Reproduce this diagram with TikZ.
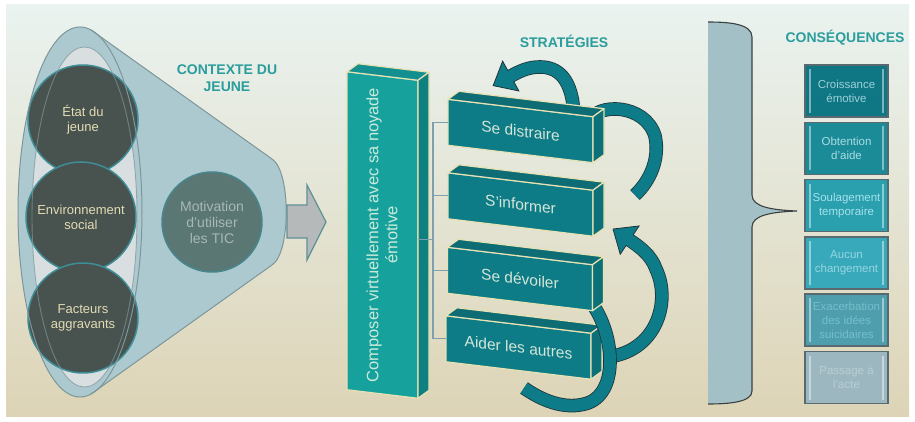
\documentclass[tikz,border=0pt]{standalone}
\usepackage{fontspec}
\setmainfont{Liberation Sans}
\usetikzlibrary{positioning,calc,decorations.markings}

\definecolor{paneltop}{HTML}{EAF3F0}
\definecolor{panelmid}{HTML}{E8EEE7}
\definecolor{panelbottom}{HTML}{DDD4B6}
\definecolor{funnelfill}{HTML}{ADC9D0}
\definecolor{funneledge}{HTML}{7D969A}
\definecolor{innerfill}{HTML}{D9DFE0}
\definecolor{bubblefill}{HTML}{48534F}
\definecolor{bubbleedge}{HTML}{3F8D96}
\definecolor{bubbletext}{HTML}{E2DCB4}
\definecolor{motivfill}{HTML}{5A7774}
\definecolor{motivtext}{HTML}{A9B8B5}
\definecolor{headteal}{HTML}{2A9D9C}
\definecolor{flowgray}{HTML}{B5B9B9}
\definecolor{flowedge}{HTML}{5F9098}
\definecolor{barfront}{HTML}{16A19D}
\definecolor{barside}{HTML}{0F8080}
\definecolor{bartop}{HTML}{138F90}
\definecolor{bartext}{HTML}{C9EAD9}
\definecolor{creamedge}{HTML}{E6E2B3}
\definecolor{stratfront}{HTML}{0E7C86}
\definecolor{strattop}{HTML}{0D6C74}
\definecolor{stratside}{HTML}{0C7078}
\definecolor{strattext}{HTML}{D5E6D9}
\definecolor{bracketline}{HTML}{7EA0AE}
\definecolor{loopfill}{HTML}{0E7B88}
\definecolor{loopedge}{HTML}{1C3538}
\definecolor{bracefill}{HTML}{A4C0C7}
\definecolor{braceedge}{HTML}{3B4142}
\definecolor{conedge}{HTML}{596970}
\definecolor{conA}{HTML}{0F7784}\definecolor{conAt}{HTML}{9CCFD7}
\definecolor{conB}{HTML}{1B8B98}\definecolor{conBt}{HTML}{A9DCE2}
\definecolor{conC}{HTML}{2A9FAE}\definecolor{conCt}{HTML}{A5E2EC}
\definecolor{conD}{HTML}{38A9BA}\definecolor{conDt}{HTML}{96D6E2}
\definecolor{conE}{HTML}{4F9EAD}\definecolor{conEt}{HTML}{75BFCD}
\definecolor{conF}{HTML}{9CB7BF}\definecolor{conFt}{HTML}{B9CDD3}

% top and side faces of a slanted box node
\newcommand{\slabfaces}[3]{%
  \draw[slabedge, fill=#2] (#1.north west) -- ++(11,8) -- ($(#1.north east)+(11,8)$) -- (#1.north east) -- cycle;
  \draw[slabedge, fill=#3] (#1.north east) -- ($(#1.north east)+(11,8)$) -- ($(#1.south east)+(11,8)$) -- (#1.south east) -- cycle;}

\begin{document}
\begin{tikzpicture}[x=1pt,y=1pt]
	\tikzset{
		bubble/.style={circle, minimum size=110pt, inner sep=2pt, fill=bubblefill, draw=bubbleedge, line width=1.5pt, text=bubbletext, align=center, font=\fontsize{13}{15}\selectfont},
		heading/.style={text=headteal, align=center, font=\fontsize{14}{17}\selectfont\bfseries},
		slabedge/.style={draw=creamedge, line width=1.2pt, line join=round},
		slab/.style={slabedge, yslant=-0.12, inner sep=0pt, outer sep=0pt},
		stratbox/.style={slab, fill=stratfront, minimum width=145pt, minimum height=46pt, text=strattext, font=\fontsize{15.5}{18}\selectfont},
		bracket/.style={draw=bracketline, line width=1.2pt},
		looparrow/.style={draw=loopfill, line width=12pt,
			preaction={draw=loopedge, line width=13.6pt},
			postaction={decorate, decoration={markings, mark=at position 1 with {
				\fill[loopfill] (-2pt,-17pt) -- (18pt,0pt) -- (-2pt,17pt) -- cycle;
				\draw[loopedge, line width=0.8pt, line join=miter] (-2pt,-6.1pt) -- (-2pt,-17pt) -- (18pt,0pt) -- (-2pt,17pt) -- (-2pt,6.1pt);}}}},
		conbox/.style={rectangle, minimum width=83pt, minimum height=52pt, inner sep=0pt, draw=conedge, line width=1.5pt, align=center, font=\fontsize{11.5}{14}\selectfont,
			path picture={\draw[white, opacity=0.45, line width=1.4pt]
				([shift={(5pt,-4pt)}]path picture bounding box.north west) -- ([shift={(5pt,4pt)}]path picture bounding box.south west)
				([shift={(-5pt,-4pt)}]path picture bounding box.north east) -- ([shift={(-5pt,4pt)}]path picture bounding box.south east);}}
	}
	\useasboundingbox (0,0) rectangle (915,421);

	%% background panel
	\fill[white] (0,0) rectangle (915,421);
	\shade[top color=paneltop, middle color=panelmid, bottom color=panelbottom] (6,5) rectangle (909,416);

	%% funnel: context of the young person
	\coordinate (fc) at (80,209);
	\coordinate (spine) at (433,0);
	\fill[funnelfill] (fc) ellipse [x radius=62, y radius=185];
	\fill[funnelfill] ($(fc)+(80:62 and 185)$) -- (272,262) .. controls (291,250) and (291,168) .. (272,156) -- ($(fc)+(-80:62 and 185)$) -- cycle;
	\fill[innerfill] (84.5,204) ellipse [x radius=52.5, y radius=170];

	\node[bubble] (etat) at (83,301) {État du\\jeune};
	\node[bubble] (envi) at (81,204) {Environnement\\social};
	\node[bubble] (fact) at (83,103) {Facteurs\\aggravants};

	\draw[funneledge, opacity=0.7, line width=0.9pt] (84.5,204) ellipse [x radius=52.5, y radius=170];
	\draw[funneledge, line width=1pt] (fc) ellipse [x radius=62, y radius=185];
	\draw[funneledge, line width=1pt] ($(fc)+(80:62 and 185)$) -- (272,262) .. controls (291,250) and (291,168) .. (272,156) -- ($(fc)+(-80:62 and 185)$);

	\node[bubble, minimum size=100pt, fill=motivfill, draw=bubbleedge!70!motivfill, text=motivtext, font=\fontsize{14}{16}\selectfont] (motiv) at (212,199) {Motivation\\d’utiliser\\les TIC};
	\node[heading] (contexte) at (227,343) {CONTEXTE DU\\JEUNE};

	%% block arrow to the strategies
	\draw[fill=flowgray, draw=flowedge, line width=1.2pt, line join=miter] (287,216) -- (307,216) -- (307,236) -- (326,199) -- (307,161) -- (307,183) -- (287,183) -- cycle;

	%% tall bar
	\node[slab, fill=barfront, minimum width=71pt, minimum height=318pt] (bar) at (382.5,186) {};
	\slabfaces{bar}{bartop}{barside}
	\node[rotate=90, align=center, text=bartext, font=\fontsize{16.5}{19}\selectfont] (bartxt) at (382,186) {Composer virtuellement avec sa noyade\\émotive};

	%% strategies and their loops
	\draw[looparrow] (606,64) .. controls (655,68) and (672,118) .. (656,152) .. controls (651,166) and (640,174) .. (628,182);
	\node[stratbox] (aider) at (518.5,73.5) {Aider les autres};
	\slabfaces{aider}{strattop}{stratside}
	\draw[looparrow] (590,120) .. controls (614,90) and (620,30) .. (588,18) .. controls (564,10) and (540,22) .. (524,33);
	\node[stratbox] (devoil) at (520,142) {Se dévoiler};
	\slabfaces{devoil}{strattop}{stratside}
	\node[stratbox] (inform) at (520.5,216.5) {S’informer};
	\slabfaces{inform}{strattop}{stratside}
	\draw[looparrow] (574,300) .. controls (574,345) and (556,354) .. (540,354) .. controls (528,354) and (520,350) .. (509,344);
	\draw[looparrow] (590,300) .. controls (596,318) and (645,318) .. (655,285) .. controls (660,262) and (650,240) .. (635,226);
	\node[stratbox] (distr) at (520.5,290) {Se distraire};
	\slabfaces{distr}{strattop}{stratside}

	%% bracket from the bar to the strategies
	\draw[bracket] (bar.east) -- (bar.east -| spine);
	\draw[bracket] (distr.west) -- (distr.west -| spine) -- (aider.west -| spine) -- (aider.west);
	\draw[bracket] (inform.west) -- (inform.west -| spine);
	\draw[bracket] (devoil.west) -- (devoil.west -| spine);
	\node[heading] (strat) at (564,380) {STRATÉGIES};

	%% brace
	\coordinate (bracetip) at (797,210);
	\fill[bracefill] (708,399) .. controls (730,399) and (752,397) .. (752,384) -- (752,226) .. controls (752,214) and (772,211) .. (bracetip) .. controls (772,209) and (752,206) .. (752,194) -- (752,30) .. controls (752,19) and (730,17) .. (708,17) -- cycle;
	\draw[braceedge, line width=1.1pt] (708,399) .. controls (730,399) and (752,397) .. (752,384) -- (752,226) .. controls (752,214) and (772,211) .. (bracetip) .. controls (772,209) and (752,206) .. (752,194) -- (752,30) .. controls (752,19) and (730,17) .. (708,17);

	%% consequences
	\node[heading] (cons) at (845,383) {CONSÉQUENCES};
	\node[conbox, fill=conA, text=conAt] (croiss) at (846.5,330) {Croissance\\émotive};
	\node[conbox, fill=conB, text=conBt, below=3.8pt of croiss] (obten) {Obtention\\d’aide};
	\node[conbox, fill=conC, text=conCt, below=3.8pt of obten] (soulag) {Soulagement\\temporaire};
	\node[conbox, fill=conD, text=conDt, below=3.8pt of soulag] (aucun) {Aucun\\changement};
	\node[conbox, fill=conE, text=conEt, below=3.8pt of aucun] (exac) {Exacerbation\\des idées\\suicidaires};
	\node[conbox, fill=conF, text=conFt, below=3.8pt of exac] (passage) {Passage à\\l’acte};
\end{tikzpicture}
\end{document}
